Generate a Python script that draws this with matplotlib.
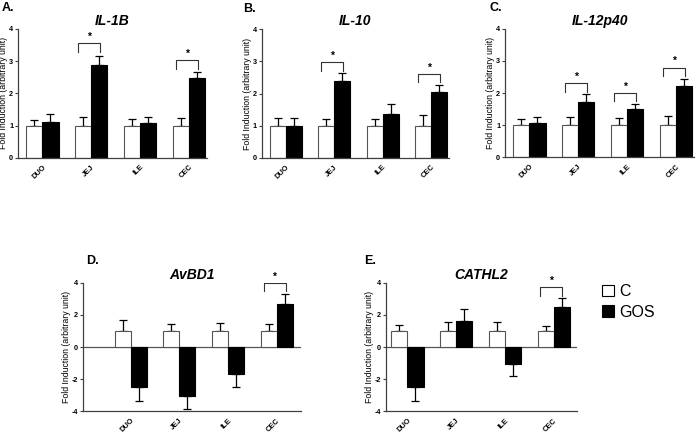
import matplotlib
matplotlib.use("Agg")
import matplotlib.pyplot as plt
from matplotlib.patches import Patch
import numpy as np

plt.rcParams['font.family'] = ['Liberation Sans', 'DejaVu Sans']

sites = ["DUO", "JEJ", "ILE", "CEC"]
groups = ["C", "GOS"]

# mean and SEM per gene, control (C) and GOS
il1b_c = [1, 1, 1, 1]
il1b_c_sem = [0.18, 0.28, 0.21, 0.25]
il1b_g = [1.11, 2.89, 1.07, 2.49]
il1b_g_sem = [0.24, 0.26, 0.19, 0.16]
il1b_sig = [(1, 3.55), (3, 3.02)]

il10_c = [1, 1, 1, 1]
il10_c_sem = [0.23, 0.2, 0.2, 0.33]
il10_g = [1.0, 2.4, 1.37, 2.06]
il10_g_sem = [0.25, 0.25, 0.31, 0.19]
il10_sig = [(1, 2.97), (3, 2.61)]

il12_c = [1, 1, 1, 1]
il12_c_sem = [0.18, 0.24, 0.21, 0.3]
il12_g = [1.06, 1.73, 1.49, 2.22]
il12_g_sem = [0.2, 0.23, 0.18, 0.23]
il12_sig = [(1, 2.3), (2, 2.01), (3, 2.79)]

avbd1_c = [1, 1, 1, 1]
avbd1_c_sem = [0.65, 0.44, 0.52, 0.44]
avbd1_g = [-2.5, -3.04, -1.67, 2.69]
avbd1_g_sem = [0.83, 0.83, 0.79, 0.62]
avbd1_sig = [(3, 4.0)]

cathl2_c = [1, 1, 1, 1]
cathl2_c_sem = [0.35, 0.54, 0.56, 0.29]
cathl2_g = [-2.5, 1.62, -1.04, 2.48]
cathl2_g_sem = [0.83, 0.75, 0.77, 0.58]
cathl2_sig = [(3, 3.71)]

W, H = 700, 434
fig = plt.figure(figsize=(7, 4.34), dpi=100)

spine_col = "#404040"
bw = 0.33


def one_sided(vals, sem):
    vals = np.asarray(vals, float)
    sem = np.asarray(sem, float)
    lo = np.where(vals < 0, sem, 0)
    hi = np.where(vals >= 0, sem, 0)
    return [lo, hi]


def panel(rect_px, letter, letter_px, title, c, c_sem, g, g_sem, sig, ylim, yticks, xlim):
    l, t, r, b = rect_px
    ax = fig.add_axes([l / W, 1 - b / H, (r - l) / W, (b - t) / H])
    x = np.arange(len(sites))
    ax.errorbar(x - bw / 2, c, yerr=one_sided(c, c_sem), fmt="none",
                ecolor="black", elinewidth=0.9, capsize=2.8, capthick=0.9, zorder=1)
    ax.errorbar(x + bw / 2, g, yerr=one_sided(g, g_sem), fmt="none",
                ecolor="black", elinewidth=0.9, capsize=2.8, capthick=0.9, zorder=1)
    ax.bar(x - bw / 2, c, bw, color="white", edgecolor="#555555", linewidth=0.8, zorder=2)
    ax.bar(x + bw / 2, g, bw, color="black", edgecolor="black", linewidth=0.8, zorder=2)
    span = ylim[1] - ylim[0]
    drop = 0.065 * span
    for i, h in sig:
        x0, x1 = i - 0.82 * bw, i + 0.55 * bw
        ax.plot([x0, x0, x1, x1], [h - drop, h, h, h - drop],
                color="#333333", lw=0.8, zorder=3)
        ax.text((x0 + x1) / 2, h + 0.01 * span, "*", ha="center", va="bottom",
                fontsize=7.5, fontweight="bold")
    if ylim[0] < 0:
        ax.axhline(0, color="#555555", lw=0.9, zorder=0)
    ax.set_xlim(*xlim)
    ax.set_ylim(*ylim)
    ax.set_yticks(yticks)
    ax.set_yticklabels([str(v) for v in yticks], fontsize=5.2, fontweight="bold")
    ax.set_xticks(x)
    ax.set_xticklabels(sites, rotation=45, ha="right", rotation_mode="anchor",
                       fontsize=5.4, fontweight="bold")
    ax.tick_params(axis="x", length=0, pad=4)
    ax.tick_params(axis="y", length=2.5, width=0.8, pad=1, color=spine_col)
    for s in ["top", "right"]:
        ax.spines[s].set_visible(False)
    for s in ["left", "bottom"]:
        ax.spines[s].set_color(spine_col)
        ax.spines[s].set_linewidth(0.9)
    ax.set_ylabel("Fold Induction (arbitrary unit)", fontsize=6.3, labelpad=0.8)
    ax.set_title(title, fontsize=10, fontweight="bold", style="italic", pad=3)
    fig.text(letter_px[0] / W, 1 - letter_px[1] / H, letter, fontsize=9,
             fontweight="bold", va="top", ha="left")
    return ax


panel((18, 28.7, 207, 158), "A.", (2, 2), "IL-1B",
      il1b_c, il1b_c_sem, il1b_g, il1b_g_sem, il1b_sig, (0, 4), [0, 1, 2, 3, 4], (-0.5, 3.37))
panel((261.7, 29, 449, 158), "B.", (243, 3), "IL-10",
      il10_c, il10_c_sem, il10_g, il10_g_sem, il10_sig, (0, 4), [0, 1, 2, 3, 4], (-0.5, 3.37))
panel((505, 28.7, 694, 157.3), "C.", (489, 2), "IL-12p40",
      il12_c, il12_c_sem, il12_g, il12_g_sem, il12_sig, (0, 4), [0, 1, 2, 3, 4], (-0.5, 3.37))
panel((83, 282.7, 301, 411.3), "D.", (86, 255), "AvBD1",
      avbd1_c, avbd1_c_sem, avbd1_g, avbd1_g_sem, avbd1_sig, (-4, 4), [-4, -2, 0, 2, 4], (-0.98, 3.5))
panel((386, 282.7, 577, 411.3), "E.", (364, 255), "CATHL2",
      cathl2_c, cathl2_c_sem, cathl2_g, cathl2_g_sem, cathl2_sig, (-4, 4), [-4, -2, 0, 2, 4], (-0.44, 3.48))

handles = [Patch(facecolor="white", edgecolor="black", linewidth=0.8),
           Patch(facecolor="black", edgecolor="black", linewidth=0.8)]
fig.legend(handles, groups, loc="upper left", bbox_to_anchor=(602 / W, 1 - 284 / H),
           frameon=False, fontsize=11.5, handlelength=0.72, handleheight=0.75,
           handletextpad=0.35, labelspacing=0.35, borderpad=0, borderaxespad=0)

fig.savefig("out.png", dpi=100)
